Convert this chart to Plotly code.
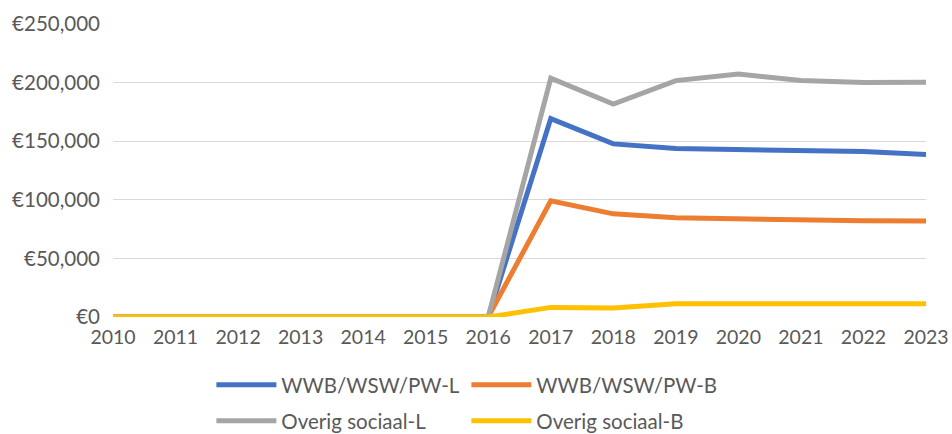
import plotly.graph_objects as go

years = [str(y) for y in range(2010, 2024)]
wwb_l = [0, 0, 0, 0, 0, 0, 0, 169300, 147700, 143700, 142600, 142000, 141200, 138600]
wwb_b = [0, 0, 0, 0, 0, 0, 0, 99100, 88000, 84600, 83800, 82100, 82100, 82000]
overig_l = [0, 0, 0, 0, 0, 0, 0, 203800, 181600, 201700, 207400, 201700, 200000, 200300]
overig_b = [0, 0, 0, 0, 0, 0, 0, 8200, 7700, 11300, 11300, 11300, 11300, 11300]

names = ["WWB/WSW/PW-L", "WWB/WSW/PW-B", "Overig sociaal-L", "Overig sociaal-B"]
colors = ["#4472C4", "#ED7D31", "#A5A5A5", "#FFC000"]
series = [wwb_l, wwb_b, overig_l, overig_b]
legends = ["legend", "legend", "legend2", "legend2"]

fig = go.Figure()
for name, vals, col, lg in zip(names, series, colors, legends):
    fig.add_trace(go.Scatter(x=years, y=vals, name=name, mode="lines",
                             line=dict(color=col, width=5),
                             legend=lg))

fam = "Lato, 'Open Sans', sans-serif"
font = dict(family=fam, size=20, color="#595959")
legend_font = dict(family=fam, size=20.5, color="#595959")
legend_common = dict(orientation="h", xref="paper", yref="paper",
                     xanchor="left", yanchor="middle", font=legend_font,
                     entrywidth=180, itemwidth=60, bgcolor="rgba(0,0,0,0)",
                     tracegroupgap=0)

fig.update_layout(
    width=952, height=434,
    margin=dict(l=113, r=26, t=24, b=117, autoexpand=False),
    paper_bgcolor="white", plot_bgcolor="white",
    font=font,
    showlegend=True,
    legend=dict(x=0.121, y=-0.232, **legend_common),
    legend2=dict(x=0.121, y=-0.355, **legend_common),
    xaxis=dict(type="category", range=[0, 13], showgrid=False, zeroline=False,
               showline=False, ticks="", automargin=False, ticklabelstandoff=6,
               tickfont=dict(family=fam, size=19.5, color="#595959")),
    yaxis=dict(range=[0, 250000], tickvals=[0, 50000, 100000, 150000, 200000, 250000],
               ticktext=["€0", "€50,000", "€100,000", "€150,000", "€200,000", "€250,000"],
               showgrid=True, gridcolor="#D9D9D9", gridwidth=1.3, zeroline=False,
               showline=False, ticks="", ticklabelstandoff=12, automargin=False,
               tickfont=dict(family=fam, size=20.5, color="#595959")),
)

fig.write_html("out.html", config={"displayModeBar": False},
               post_script="document.body.style.margin='0';document.body.style.overflow='hidden';")
